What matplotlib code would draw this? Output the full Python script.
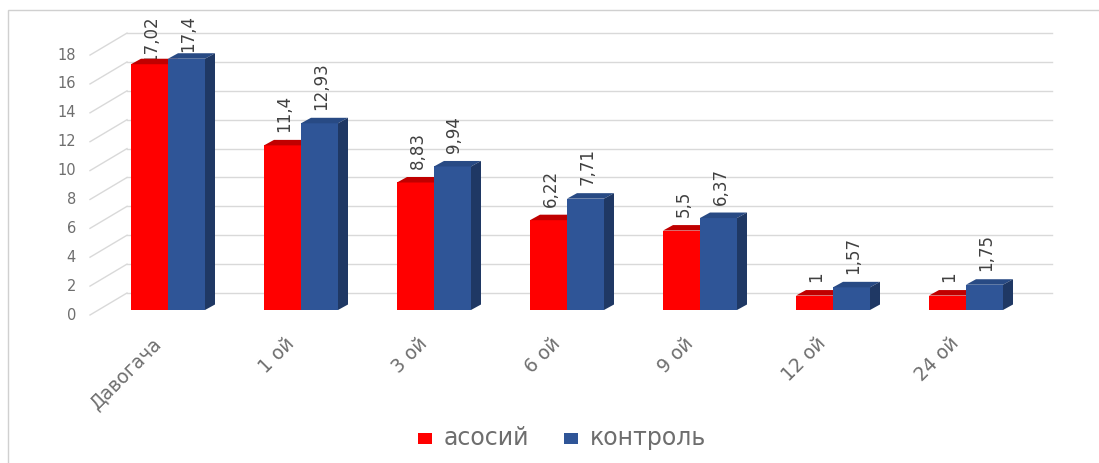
import matplotlib
matplotlib.use("Agg")
import matplotlib.pyplot as plt
from matplotlib.patches import Polygon, Rectangle

# ---- data ----
categories = ["Давогача", "1 ой", "3 ой", "6 ой", "9 ой", "12 ой", "24 ой"]
series_names = ["асосий", "контроль"]
asosiy = [17.02, 11.4, 8.83, 6.22, 5.5, 1, 1]
kontrol = [17.4, 12.93, 9.94, 7.71, 6.37, 1.57, 1.75]
asosiy_labels = ["17,02", "11,4", "8,83", "6,22", "5,5", "1", "1"]
kontrol_labels = ["17,4", "12,93", "9,94", "7,71", "6,37", "1,57", "1,75"]
yticks = [0, 2, 4, 6, 8, 10, 12, 14, 16, 18]

W, H = 1099, 463
fig = plt.figure(figsize=(W / 100, H / 100), dpi=100)
fig.patch.set_facecolor("white")

# axes placed in pixel terms
ax_l, ax_r, ax_t, ax_b = 90, 1055, 15, 316
ax = fig.add_axes([ax_l / W, 1 - ax_b / H, (ax_r - ax_l) / W, (ax_b - ax_t) / H])
ax.axis("off")
# scale: category step 133 px, 14.44 px per unit, zero at 168/310
xs, x0 = 133.0, 168.0
ys, y0 = 14.44, 310.0
ax.set_xlim((ax_l - x0) / xs, (ax_r - x0) / xs)
ax.set_ylim((y0 - ax_b) / ys, (y0 - ax_t) / ys)

grid_c = "#D9D9D9"
text_c = "#6E6E6E"

# 3D wall geometry (data units)
front_x = (ax_l - x0) / xs
back_x0 = (127 - x0) / xs
back_x1 = (1052 - x0) / xs
front_dy = -5 / ys
back_dy = 17 / ys

for v in yticks:
    ax.plot([back_x0, back_x1], [v + back_dy, v + back_dy], color=grid_c, lw=1.0, zorder=0, clip_on=False)
    ax.plot([front_x, back_x0], [v + front_dy, v + back_dy], color=grid_c, lw=1.0, zorder=0, clip_on=False)
    ax.text(front_x - 14 / xs, v + front_dy, str(v), ha="right", va="center",
            fontsize=10.5, color=text_c, clip_on=False)

# bars with pseudo-3D faces
bw = 37 / xs
ddx = 10 / xs
ddy = 5.5 / ys
red_front, red_top, red_side = "#FF0000", "#C00000", "#A00000"
blue_front, blue_top, blue_side = "#2F5597", "#284A84", "#1F3864"


def bar3d(xl, h, front, top, side, z):
    xr = xl + bw
    ax.add_patch(Rectangle((xl, 0), bw, h, facecolor=front, edgecolor="none", zorder=z))
    ax.add_patch(Polygon([(xl, h), (xl + ddx, h + ddy), (xr + ddx, h + ddy), (xr, h)],
                         closed=True, facecolor=top, edgecolor="none", zorder=z))
    ax.add_patch(Polygon([(xr, 0), (xr + ddx, ddy), (xr + ddx, h + ddy), (xr, h)],
                         closed=True, facecolor=side, edgecolor="none", zorder=z))


value_texts = []
for i in range(len(categories)):
    bar3d(i - bw, asosiy[i], red_front, red_top, red_side, 2)
    bar3d(i, kontrol[i], blue_front, blue_top, blue_side, 3)
    for xc, val, lab in [(i - bw / 2, asosiy[i], asosiy_labels[i]),
                         (i + bw / 2, kontrol[i], kontrol_labels[i])]:
        t = ax.text(xc + 2 / xs, val + ddy + 8 / ys, lab, rotation=90,
                    ha="center", va="bottom", fontsize=12, color="#404040",
                    clip_on=False, zorder=1)
        value_texts.append(t)
    ax.text(i - 3 / xs, -24 / ys, categories[i], rotation=45, ha="right", va="top",
            fontsize=13.5, color=text_c, clip_on=False)

# keep data labels inside the chart area (shift down like the original)
fig.canvas.draw()
renderer = fig.canvas.get_renderer()
top_px_limit = H - ax_t  # display coords (origin bottom)
for t in value_texts:
    bb = t.get_window_extent(renderer)
    over = bb.y1 - top_px_limit
    if over > 0:
        x, y = t.get_position()
        t.set_position((x, y - over / ys))

# outer chart frame
fig.add_artist(Rectangle((8 / W, -0.05), 1.2, 1 - 10 / H + 0.05, transform=fig.transFigure,
                         facecolor="none", edgecolor="#D0D0D0", lw=1.0))

# legend
leg_y = 1 - 438 / H
sq_w, sq_h = 14 / W, 11 / H
for sx, tx, col, name in [(418, 444, red_front, series_names[0]), (564, 590, blue_front, series_names[1])]:
    fig.add_artist(Rectangle((sx / W, leg_y - sq_h / 2), sq_w, sq_h, transform=fig.transFigure,
                             facecolor=col, edgecolor="none"))
    fig.text(tx / W, leg_y, name, ha="left", va="center", fontsize=17, color=text_c)

fig.savefig("out.png", dpi=100, facecolor="white")
